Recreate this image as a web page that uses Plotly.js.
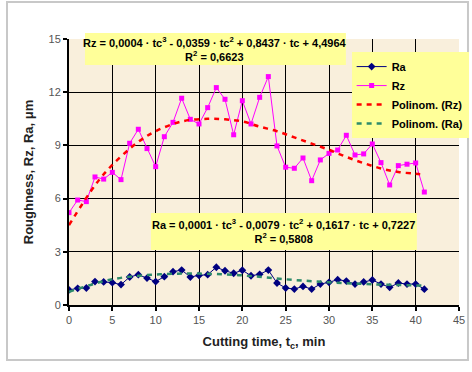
<!DOCTYPE html>
<html><head><meta charset="utf-8">
<script src="https://cdn.plot.ly/plotly-3.0.1.min.js"></script>
<style>html,body{margin:0;padding:0;background:#fff;}#c{width:472px;height:372px;}</style>
</head><body><div id="c"></div>
<script>
const t = [0,1,2,3,4,5,6,7,8,9,10,11,12,13,14,15,16,17,18,19,20,21,22,23,24,25,26,27,28,29,30,31,32,33,34,35,36,37,38,39,40,41];
const rz = [5.21,5.92,5.83,7.22,7.1,7.48,7.07,9.12,9.91,8.82,7.8,9.49,10.3,11.66,10.47,10.21,11.13,12.26,11.6,9.6,11.52,10.21,11.71,12.88,8.97,7.77,7.71,8.29,7.01,8.18,8.55,8.74,9.57,8.46,8.52,9.08,8.03,6.77,7.86,7.94,8.01,6.37];
const ra = [0.85,0.94,0.96,1.32,1.30,1.26,1.15,1.58,1.71,1.52,1.32,1.60,1.88,1.97,1.58,1.67,1.71,2.13,1.93,1.79,1.96,1.65,1.73,1.97,1.24,0.96,0.90,1.05,0.90,1.18,1.28,1.43,1.35,1.18,1.30,1.41,1.18,1.00,1.24,1.18,1.18,0.89];
// trend lines
const trendT = [0,3,5,8,10,13,16,18,20,22,24,26,28,30,32,34,36,38,40,41];
const rzTrend = [4.5,6.75,7.9,9.2,9.8,10.35,10.5,10.47,10.35,10.06,9.8,9.45,9.1,8.75,8.35,8.0,7.7,7.5,7.4,7.35];
const raTrendT = [0,5,10,15,20,25,30,35,41];
const raTrend = [0.75,1.45,1.72,1.77,1.67,1.45,1.28,1.17,1.09];
const xTicks = [0,5,10,15,20,25,30,35,40,45];
const yTicks = [0,3,6,9,12,15];
const eqRz = "Rz = 0,0004 · tc<sup>3</sup> - 0,0359 · tc<sup>2</sup> + 0,8437 · tc + 4,4964<br>R<sup>2</sup> = 0,6623";
const eqRa = "Ra = 0,0001 · tc<sup>3</sup> - 0,0079 · tc<sup>2</sup> + 0,1617 · tc + 0,7227<br>R<sup>2</sup> = 0,5808";

const F = "Liberation Sans, Arial, sans-serif";
const traces = [
  {x:t, y:ra, name:'Ra', mode:'lines+markers', line:{color:'#000080', width:1},
   marker:{symbol:'diamond', size:6, color:'#000080'}},
  {x:t, y:rz, name:'Rz', mode:'lines+markers', line:{color:'#ff00ff', width:1},
   marker:{symbol:'square', size:5, color:'#ff00ff'}},
  {x:trendT, y:rzTrend, name:'Polinom. (Rz)', mode:'lines', line:{color:'#ff0000', width:2.5, dash:'5px,5px', shape:'spline'}},
  {x:raTrendT, y:raTrend, name:'Polinom. (Ra)', mode:'lines', line:{color:'#2e8b6b', width:2.5, dash:'5px,5px', shape:'spline'}}
];
const layout = {
  width:472, height:372,
  margin:{l:69, r:13, t:39, b:67, autoexpand:false},
  paper_bgcolor:'#ffffff', plot_bgcolor:'#f9efdc',
  font:{family:F, size:11, color:'#000'},
  showlegend:true,
  legend:{xref:'container', yref:'container', x:0.745, y:0.86, xanchor:'left', yanchor:'top', bgcolor:'#ffff99', borderwidth:0,
    font:{family:F, size:11, weight:'bold', color:'#000'}, tracegroupgap:0, itemwidth:30},
  xaxis:{range:[0,45], tickvals:xTicks, ticktext:xTicks.map(String), showgrid:true, gridcolor:'#000', gridwidth:1,
    showline:true, linecolor:'#000', linewidth:2, ticks:'outside', ticklen:4, tickcolor:'#000', tickwidth:2,
    zeroline:false, tickfont:{family:F, size:11, color:'#555'},
    title:{text:'Cutting time, t<sub>c</sub>, min', font:{family:F, size:13, weight:'bold', color:'#222'}, standoff:12}},
  yaxis:{range:[0,15], tickvals:yTicks, ticktext:yTicks.map(String), showgrid:true, gridcolor:'#000', gridwidth:1,
    showline:true, linecolor:'#000', linewidth:2, ticks:'outside', ticklen:4, tickcolor:'#000', tickwidth:2,
    zeroline:false, tickfont:{family:F, size:11, color:'#555'},
    title:{text:'Roughness, Rz, Ra, μm', font:{family:F, size:13, weight:'bold', color:'#222'}, standoff:12}},
  shapes:[
    {type:'rect', xref:'paper', yref:'paper', x0:-0.159, x1:1.023, y0:-0.207, y1:1.139, line:{color:'#c8c8c8', width:2}, fillcolor:'rgba(0,0,0,0)', layer:'below'},
    {type:'rect', xref:'paper', yref:'paper', x0:0.041, x1:0.710, y0:0.902, y1:1.023, line:{width:0}, fillcolor:'#ffff99', layer:'above'},
    {type:'rect', xref:'paper', yref:'paper', x0:0.210, x1:0.892, y0:0.207, y1:0.346, line:{width:0}, fillcolor:'#ffff99', layer:'above'}
  ],
  annotations:[
    {xref:'paper', yref:'paper', x:0.3755, y:0.9625, text:eqRz, showarrow:false, align:'center', xanchor:'center', yanchor:'middle',
     font:{family:F, size:11, weight:'bold', color:'#000'}},
    {xref:'paper', yref:'paper', x:0.551, y:0.2765, text:eqRa, showarrow:false, align:'center', xanchor:'center', yanchor:'middle',
     font:{family:F, size:11, weight:'bold', color:'#000'}}
  ]
};
Plotly.newPlot('c', traces, layout, {displayModeBar:false, staticPlot:true});
</script></body></html>
